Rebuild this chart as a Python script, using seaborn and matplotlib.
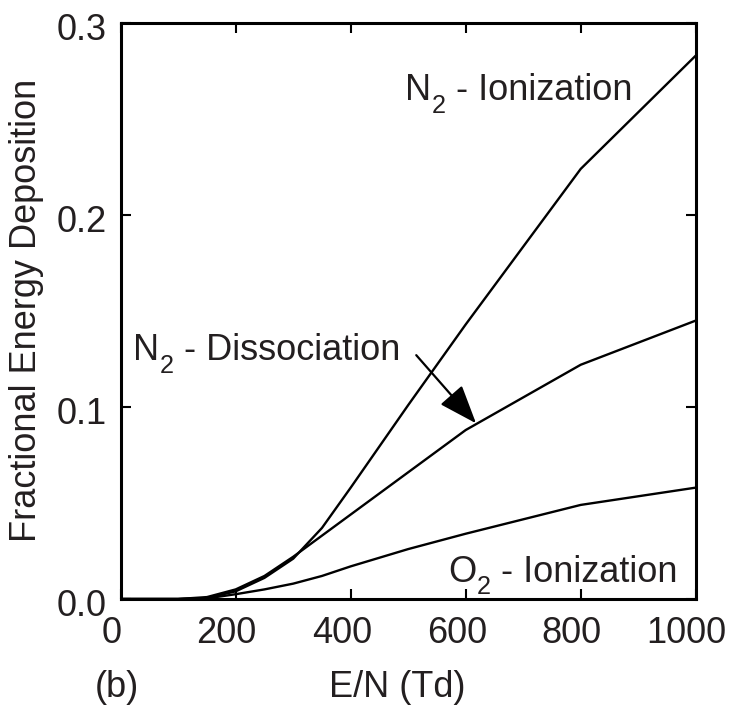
import matplotlib
matplotlib.use("Agg")
import matplotlib.pyplot as plt
import matplotlib.transforms as mtransforms
import numpy as np
import pandas as pd
import seaborn as sns

# Reduced field (Td)
e_over_n = [0, 100, 150, 200, 250, 300, 350, 400, 500, 600, 800, 1000]

# Fractional energy deposition into each channel
n2_ionization = [0.0, 0.0, 0.0005, 0.004, 0.011, 0.021, 0.037, 0.058, 0.101, 0.143, 0.224, 0.283]
n2_dissociation = [0.0, 0.0, 0.001, 0.005, 0.012, 0.022, 0.033, 0.044, 0.066, 0.088, 0.122, 0.145]
o2_ionization = [0.0, 0.0, 0.0003, 0.0025, 0.005, 0.008, 0.012, 0.017, 0.026, 0.034, 0.049, 0.058]

x_ticks = [0, 200, 400, 600, 800, 1000]
y_ticks = [0.0, 0.1, 0.2, 0.3]
y_tick_labels = ["0.0", "0.1", "0.2", "0.3"]

sns.set_theme(style="ticks")
plt.rcParams["font.family"] = ["Liberation Sans", "DejaVu Sans"]

TEXT = "#231f20"
FS = 26
SUB_FS = FS * 0.7

df = pd.concat([
    pd.DataFrame({"E/N": e_over_n, "frac": n2_ionization, "channel": "N2 ionization"}),
    pd.DataFrame({"E/N": e_over_n, "frac": n2_dissociation, "channel": "N2 dissociation"}),
    pd.DataFrame({"E/N": e_over_n, "frac": o2_ionization, "channel": "O2 ionization"}),
], ignore_index=True)

DPI = 100
fig = plt.figure(figsize=(7.30, 7.08), dpi=DPI)
ax = fig.add_axes([120.7 / 730, (708 - 599) / 708, 575 / 730, 576 / 708])

sns.lineplot(data=df, x="E/N", y="frac", hue="channel", estimator=None,
             palette=["black"] * 3, legend=False, linewidth=1.7, ax=ax)

ax.set_xlim(0, 1000)
ax.set_ylim(0, 0.3)
ax.set_xticks(x_ticks)
ax.set_xticklabels([str(v) for v in x_ticks])
ax.set_yticks(y_ticks)
ax.set_yticklabels(y_tick_labels)

for side in ["left", "right", "top", "bottom"]:
    ax.spines[side].set_visible(True)
    ax.spines[side].set_linewidth(2.2)
    ax.spines[side].set_color("black")

ax.tick_params(axis="both", direction="in", length=7.5, width=1.5, color="black",
               top=True, right=True, labelsize=FS, labelcolor=TEXT)
ax.tick_params(axis="x", pad=12)
ax.tick_params(axis="y", pad=10)

# small offsets of the tick labels
for lab in ax.get_xticklabels():
    lab.set_transform(lab.get_transform() +
                      mtransforms.ScaledTranslation(-9 / DPI, 0, fig.dpi_scale_trans))
for lab in ax.get_yticklabels():
    lab.set_transform(lab.get_transform() +
                      mtransforms.ScaledTranslation(0, -4 / DPI, fig.dpi_scale_trans))

ax.set_xlabel("E/N (Td)", fontsize=FS, color=TEXT)
ax.xaxis.set_label_coords(397.5 / 730, (708 - 697) / 708, transform=fig.transFigure)
ax.xaxis.label.set_verticalalignment("baseline")

ax.set_ylabel("Fractional Energy Deposition", fontsize=FS, color=TEXT)
ax.yaxis.set_label_coords(27 / 730, (708 - 310) / 708, transform=fig.transFigure)
ax.yaxis.label.set_verticalalignment("center")


def species_label(x, y, species, sub, rest):
    """Write e.g. 'N', subscript '2', ' - Ionization' with a deep subscript."""
    t1 = ax.text(x, y, species, fontsize=FS, color=TEXT, va="baseline")
    t2 = ax.annotate(sub, xy=(1, 0), xycoords=t1, xytext=(0.6, -7.0),
                     textcoords="offset points", fontsize=SUB_FS, color=TEXT,
                     va="bottom", ha="left")
    ax.annotate(rest, xy=(1, 0), xycoords=(t2, t1), xytext=(0, 0),
                textcoords="offset points", fontsize=FS, color=TEXT,
                va="bottom", ha="left")


species_label(494, 0.260, "N", "2", " - Ionization")
species_label(21, 0.1245, "N", "2", " - Dissociation")
species_label(569, 0.009, "O", "2", " - Ionization")

ax.annotate("", xy=(618, 0.0915), xytext=(514, 0.127),
            arrowprops=dict(arrowstyle="-|>,head_length=1.2,head_width=0.45",
                            mutation_scale=20, lw=1.6, color="black",
                            shrinkA=0, shrinkB=0))

fig.text(95 / 730, (708 - 670) / 708, "(b)", fontsize=FS, color=TEXT, va="top", ha="left")

fig.savefig("out.png", dpi=DPI)
